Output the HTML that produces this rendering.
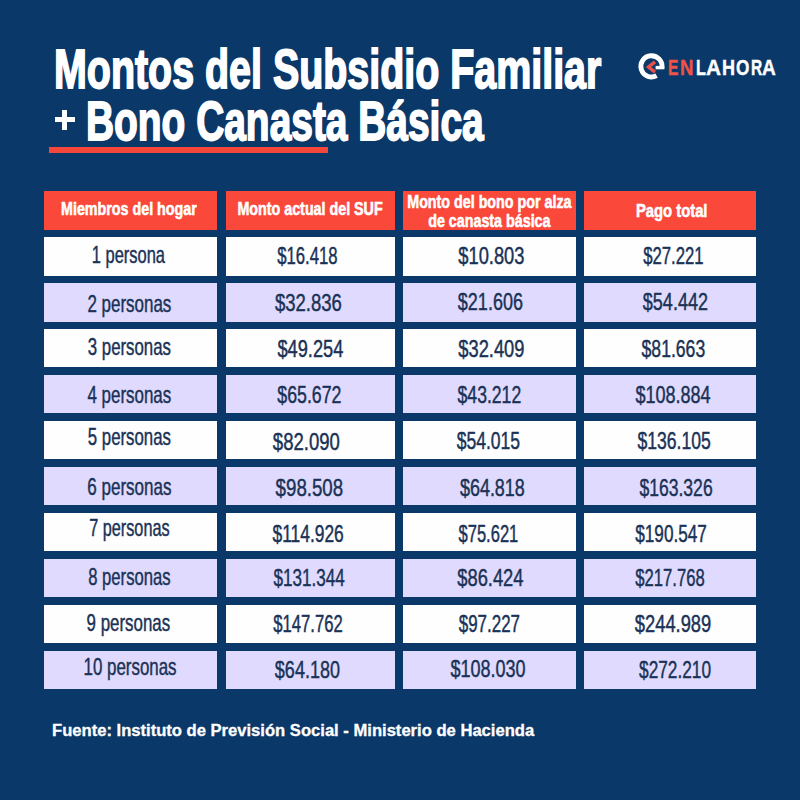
<!DOCTYPE html>
<html><head><meta charset="utf-8">
<style>
html,body{margin:0;padding:0;}
body{width:800px;height:800px;overflow:hidden;background:#0a3868;position:relative;font-family:"Liberation Sans",sans-serif;}
.a{position:absolute;white-space:nowrap;}
.ttl{color:#fff;font-weight:bold;font-size:55px;line-height:56px;transform-origin:0 0;-webkit-text-stroke:1.8px #fff;}
.bar{position:absolute;left:49.2px;top:146.8px;width:278.8px;height:6.7px;background:#f4473a;}
.c{position:absolute;display:flex;align-items:center;justify-content:center;}
.h{background:#fa483a;color:#fff;font-weight:bold;font-size:18.5px;line-height:19.5px;text-align:center;}
.w{background:#fefefe;}
.l{background:#e0dbfe;}
.c span{display:block;white-space:nowrap;position:relative;}
.h span{-webkit-text-stroke:0.6px #fff;}
.rs{color:#1a3256;font-size:24px;line-height:24px;-webkit-text-stroke:0.45px #1a3256;}
.lg{font-size:21.5px;line-height:24px;font-weight:bold;transform-origin:0 0;-webkit-text-stroke:0.4px currentColor;}
.foot{left:52px;top:721px;color:#fff;font-weight:bold;font-size:16px;line-height:20px;-webkit-text-stroke:0.3px #fff;transform-origin:0 0;transform:scaleX(1.037);}
</style></head><body>
<div class="a ttl" style="left:53.6px;top:40.8px;transform:scaleX(0.7165)">Montos del Subsidio Familiar</div>
<div class="a" style="left:55px;top:117.2px;width:19.8px;height:5.2px;background:#fff"></div>
<div class="a" style="left:62px;top:109.5px;width:5.4px;height:20.6px;background:#fff"></div>
<div class="a ttl" style="left:86px;top:92.6px;transform:scaleX(0.7071)">Bono Canasta Básica</div>
<div class="bar"></div>
<svg class="a" style="left:630px;top:45px" width="50" height="45" viewBox="630 45 50 45">
  <path d="M661.9 68 A10.6 10.6 0 1 0 656.6 75.6" fill="none" stroke="#fff" stroke-width="4.8"/>
  <rect x="655.6" y="65.9" width="8.8" height="3.4" fill="#fff"/>
  <path d="M655 61.8 L648.5 67 L655 72.2" fill="none" stroke="#ea5148" stroke-width="3.4"/>
</svg>
<!--logo--><div class="a lg" style="left:668.38px;top:56px;color:#ef5347;transform:scaleX(0.7231)">E</div><div class="a lg" style="left:679.88px;top:56px;color:#ef5347;transform:scaleX(0.8654)">N</div><div class="a lg" style="left:695.75px;top:56px;color:#fff;transform:scaleX(0.7500)">L</div><div class="a lg" style="left:705.64px;top:56px;color:#fff;transform:scaleX(0.9643)">A</div><div class="a lg" style="left:722.16px;top:56px;color:#fff;transform:scaleX(0.8385)">H</div><div class="a lg" style="left:736.10px;top:56px;color:#fff;transform:scaleX(0.8000)">O</div><div class="a lg" style="left:750.78px;top:56px;color:#fff;transform:scaleX(0.7214)">R</div><div class="a lg" style="left:762.21px;top:56px;color:#fff;transform:scaleX(0.8857)">A</div><!--/logo-->
<div class="c h" style="left:44px;top:191px;width:173px;height:39px"><span style="transform:scaleX(0.772);top:-1.4px;left:-1.8px">Miembros del hogar</span></div>
<div class="c h" style="left:226px;top:191px;width:169px;height:39px"><span style="transform:scaleX(0.772);top:-1.4px;left:0px">Monto actual del SUF</span></div>
<div class="c h" style="left:403px;top:191px;width:173px;height:39px"><span style="transform:scaleX(0.772);top:0.5px;left:0px">Monto del bono por alza<br>de canasta básica</span></div>
<div class="c h" style="left:584px;top:191px;width:172px;height:39px"><span style="transform:scaleX(0.8);top:0.6px;left:1.6px">Pago total</span></div>
<div class="c w" style="left:44px;top:237.30px;width:173px;height:38.3px"><span class="rs" style="transform:scaleX(0.6858);left:-1.9px;top:-1.25px">1 persona</span></div>
<div class="c w" style="left:226px;top:237.30px;width:169px;height:38.3px"><span class="rs" style="transform:scaleX(0.6967);left:-3.4px;top:-0.45px">$16.418</span></div>
<div class="c w" style="left:403px;top:237.30px;width:173px;height:38.3px"><span class="rs" style="transform:scaleX(0.7616);left:1.4px;top:-0.65px">$10.803</span></div>
<div class="c w" style="left:584px;top:237.30px;width:172px;height:38.3px"><span class="rs" style="transform:scaleX(0.6965);left:3.6px;top:-0.65px">$27.221</span></div>
<div class="c l" style="left:44px;top:283.23px;width:173px;height:38.3px"><span class="rs" style="transform:scaleX(0.7069);left:-1.0px;top:2.02px">2 personas</span></div>
<div class="c l" style="left:226px;top:283.23px;width:169px;height:38.3px"><span class="rs" style="transform:scaleX(0.771);left:-2.6px;top:0.32px">$32.836</span></div>
<div class="c l" style="left:403px;top:283.23px;width:173px;height:38.3px"><span class="rs" style="transform:scaleX(0.7502);left:0.9px;top:-0.08px">$21.606</span></div>
<div class="c l" style="left:584px;top:283.23px;width:172px;height:38.3px"><span class="rs" style="transform:scaleX(0.7502);left:5.3px;top:-0.08px">$54.442</span></div>
<div class="c w" style="left:44px;top:329.16px;width:173px;height:38.3px"><span class="rs" style="transform:scaleX(0.6998);left:-1.4px;top:-1.71px">3 personas</span></div>
<div class="c w" style="left:226px;top:329.16px;width:169px;height:38.3px"><span class="rs" style="transform:scaleX(0.7592);left:-0.5px;top:0.79px">$49.254</span></div>
<div class="c w" style="left:403px;top:329.16px;width:173px;height:38.3px"><span class="rs" style="transform:scaleX(0.7616);left:1.4px;top:0.79px">$32.409</span></div>
<div class="c w" style="left:584px;top:329.16px;width:172px;height:38.3px"><span class="rs" style="transform:scaleX(0.7336);left:3.4px;top:0.79px">$81.663</span></div>
<div class="c l" style="left:44px;top:375.09px;width:173px;height:38.3px"><span class="rs" style="transform:scaleX(0.7053);left:-0.9px;top:1.06px">4 personas</span></div>
<div class="c l" style="left:226px;top:375.09px;width:169px;height:38.3px"><span class="rs" style="transform:scaleX(0.7407);left:-1.3px;top:0.76px">$65.672</span></div>
<div class="c l" style="left:403px;top:375.09px;width:173px;height:38.3px"><span class="rs" style="transform:scaleX(0.7333);left:0.2px;top:0.76px">$43.212</span></div>
<div class="c l" style="left:584px;top:375.09px;width:172px;height:38.3px"><span class="rs" style="transform:scaleX(0.7512);left:3.2px;top:0.76px">$108.884</span></div>
<div class="c w" style="left:44px;top:421.02px;width:173px;height:38.3px"><span class="rs" style="transform:scaleX(0.6998);left:-1.4px;top:-2.97px">5 personas</span></div>
<div class="c w" style="left:226px;top:421.02px;width:169px;height:38.3px"><span class="rs" style="transform:scaleX(0.7729);left:-3.7px;top:1.73px">$82.090</span></div>
<div class="c w" style="left:403px;top:421.02px;width:173px;height:38.3px"><span class="rs" style="transform:scaleX(0.731);left:-1.5px;top:0.53px">$54.015</span></div>
<div class="c w" style="left:584px;top:421.02px;width:172px;height:38.3px"><span class="rs" style="transform:scaleX(0.7327);left:4.5px;top:0.53px">$136.105</span></div>
<div class="c l" style="left:44px;top:466.95px;width:173px;height:38.3px"><span class="rs" style="transform:scaleX(0.7085);left:-0.84px;top:0.6px">6 personas</span></div>
<div class="c l" style="left:226px;top:466.95px;width:169px;height:38.3px"><span class="rs" style="transform:scaleX(0.7783);left:-1.5px;top:1.9px">$98.508</span></div>
<div class="c l" style="left:403px;top:466.95px;width:173px;height:38.3px"><span class="rs" style="transform:scaleX(0.7477);left:2.8px;top:1.7px">$64.818</span></div>
<div class="c l" style="left:584px;top:466.95px;width:172px;height:38.3px"><span class="rs" style="transform:scaleX(0.731);left:6.0px;top:1.7px">$163.326</span></div>
<div class="c w" style="left:44px;top:512.88px;width:173px;height:38.3px"><span class="rs" style="transform:scaleX(0.6778);left:-1.1px;top:-3.83px">7 personas</span></div>
<div class="c w" style="left:226px;top:512.88px;width:169px;height:38.3px"><span class="rs" style="transform:scaleX(0.7247);left:-2.3px;top:2.37px">$114.926</span></div>
<div class="c w" style="left:403px;top:512.88px;width:173px;height:38.3px"><span class="rs" style="transform:scaleX(0.6893);left:-0.9px;top:2.37px">$75.621</span></div>
<div class="c w" style="left:584px;top:512.88px;width:172px;height:38.3px"><span class="rs" style="transform:scaleX(0.7144);left:0.8px;top:2.37px">$190.547</span></div>
<div class="c l" style="left:44px;top:558.81px;width:173px;height:38.3px"><span class="rs" style="transform:scaleX(0.6931);left:-1.0px;top:-0.56px">8 personas</span></div>
<div class="c l" style="left:226px;top:558.81px;width:169px;height:38.3px"><span class="rs" style="transform:scaleX(0.7106);left:-1.0px;top:0.24px">$131.344</span></div>
<div class="c l" style="left:403px;top:558.81px;width:173px;height:38.3px"><span class="rs" style="transform:scaleX(0.7641);left:0.9px;top:0.24px">$86.424</span></div>
<div class="c l" style="left:584px;top:558.81px;width:172px;height:38.3px"><span class="rs" style="transform:scaleX(0.6942);left:-0.2px;top:0.24px">$217.768</span></div>
<div class="c w" style="left:44px;top:604.74px;width:173px;height:38.3px"><span class="rs" style="transform:scaleX(0.7034);left:-2.6px;top:-0.69px">9 personas</span></div>
<div class="c w" style="left:226px;top:604.74px;width:169px;height:38.3px"><span class="rs" style="transform:scaleX(0.6942);left:-2.0px;top:0.31px">$147.762</span></div>
<div class="c w" style="left:403px;top:604.74px;width:173px;height:38.3px"><span class="rs" style="transform:scaleX(0.7058);left:-0.2px;top:0.31px">$97.227</span></div>
<div class="c w" style="left:584px;top:604.74px;width:172px;height:38.3px"><span class="rs" style="transform:scaleX(0.7629);left:3.2px;top:0.31px">$244.989</span></div>
<div class="c l" style="left:44px;top:650.67px;width:173px;height:38.3px"><span class="rs" style="transform:scaleX(0.7041);left:-0.34px;top:-2.32px">10 personas</span></div>
<div class="c l" style="left:226px;top:650.67px;width:169px;height:38.3px"><span class="rs" style="transform:scaleX(0.7494);left:-2.7px;top:0.38px">$64.180</span></div>
<div class="c l" style="left:403px;top:650.67px;width:173px;height:38.3px"><span class="rs" style="transform:scaleX(0.7512);left:-1.8px;top:-0.62px">$108.030</span></div>
<div class="c l" style="left:584px;top:650.67px;width:172px;height:38.3px"><span class="rs" style="transform:scaleX(0.7183);left:5.4px;top:0.38px">$272.210</span></div>
<div class="a foot">Fuente: Instituto de Previsión Social - Ministerio de Hacienda</div>
</body></html>
